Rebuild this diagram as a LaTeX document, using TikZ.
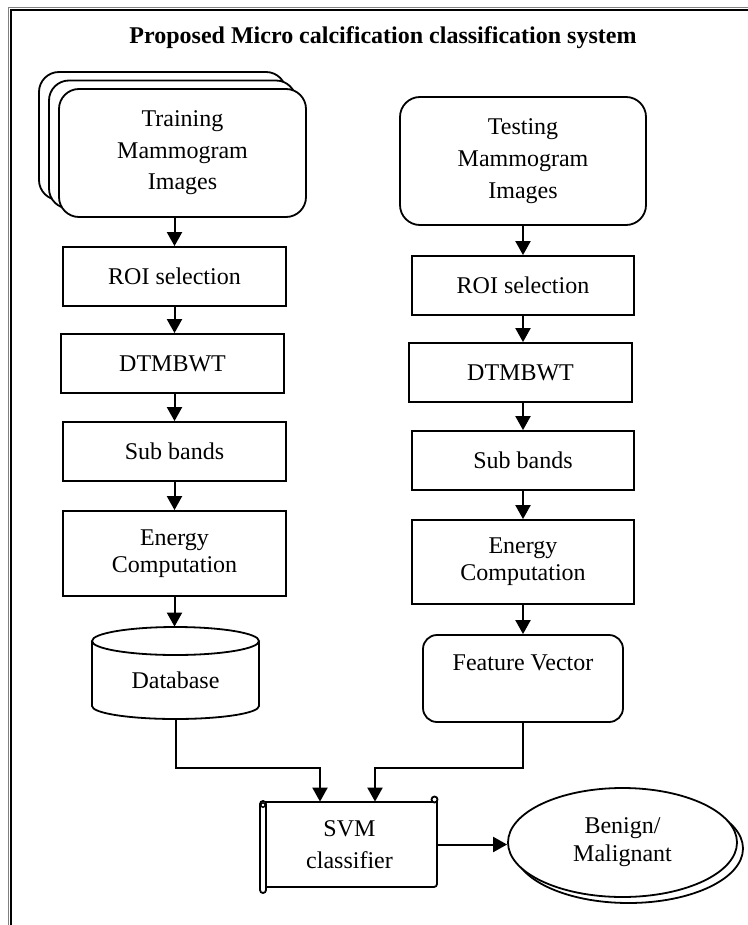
\documentclass[tikz,border=0pt]{standalone}
\usepackage{fontspec}
\setmainfont{Liberation Serif}
\usetikzlibrary{arrows.meta,shapes.geometric}
\begin{document}
\begin{tikzpicture}[x=0.5pt,y=-0.5pt,
  every node/.style={font=\fontsize{12}{14}\selectfont},
  ln/.style={line width=0.9pt},
  box/.style={draw,ln,minimum width=111.5pt,minimum height=29.5pt,inner sep=0pt,fill=white,align=center},
  rbox/.style={box,rounded corners=10pt},
  arr/.style={line width=1pt,-{Triangle[length=7pt,width=7.5pt]}}]
\useasboundingbox (0,0) rectangle (748,925);
% border
\draw[gray,line width=0.4pt] (8.3,925) -- (8.3,7.7) -- (748,7.7);
\draw[line width=1.2pt] (10.7,925) -- (10.7,10.3) -- (748,10.3);
% title
\node[font=\bfseries\fontsize{12}{14}\selectfont] (title) at (383,38) {Proposed Micro calcification classification system};
% left column
\node[rbox,minimum width=123.5pt,minimum height=64pt] (trainB) at (162.5,136) {};
\node[rbox,minimum width=123.5pt,minimum height=64pt] (trainM) at (172.5,144.5) {};
\node[rbox,minimum width=123.5pt,minimum height=64pt,font=\fontsize{12}{15.75}\selectfont] (trainF) at (182.5,153) {Training\\Mammogram\\Images};
\node[box] (roiL) at (174.5,276.5) {ROI selection};
\node[box] (dtmL) at (172.5,363.5) {DTMBWT};
\node[box] (subL) at (174.5,451.5) {Sub bands};
\node[box,minimum height=42.5pt,font=\fontsize{12}{13.5}\selectfont] (engL) at (174.5,553.5) {Energy\\Computation};
% database cylinder
\node[minimum width=83.5pt,minimum height=46pt,inner sep=0pt] (db) at (175.5,673) {};
\draw[ln,fill=white] (92,641) -- (92,706) arc[start angle=180,end angle=360,x radius=41.75pt,y radius=6.5pt] -- (259,641);
\draw[ln,fill=white] (175.5,641) ellipse [x radius=41.75pt, y radius=7pt];
\node (dbt) at (175.5,680) {Database};
% right column
\node[rbox,minimum width=123pt,minimum height=64pt,font=\fontsize{12}{16}\selectfont] (test) at (523,161) {Testing\\Mammogram\\Images};
\node[box,minimum width=111pt] (roiR) at (523,285.5) {ROI selection};
\node[box,minimum width=111.5pt] (dtmR) at (520.5,372.5) {DTMBWT};
\node[box,minimum width=111pt] (subR) at (523,460.5) {Sub bands};
\node[box,minimum width=111pt,minimum height=42pt,font=\fontsize{12}{13.5}\selectfont] (engR) at (523,562) {Energy\\Computation};
\node[rbox,rounded corners=7pt,minimum width=100pt,minimum height=43.5pt,
  label={[anchor=north,yshift=-7pt]north:Feature Vector}] (fv) at (523,678.5) {};
% SVM scroll
\draw[ln] (264,802) -- (434,802);
\draw[ln,rounded corners=1.5pt] (437,800) -- (437,887) -- (266,887);
\draw[ln] (434.5,799.5) circle[radius=1.5pt];
\draw[ln,fill=white,rounded corners=1.5pt] (260,801) rectangle (266,893);
\draw[line width=0.7pt] (263,805) circle[radius=1.1pt];
\node[minimum width=87.5pt,minimum height=42.5pt,inner sep=0pt,align=center,font=\fontsize{12}{16}\selectfont] (svm) at (349.5,844.5) {SVM\\classifier};
% result ellipse
\node[ellipse,draw,ln,fill=white,minimum width=114.5pt,minimum height=54.5pt,inner sep=0pt] (outB) at (628.5,848.5) {};
\node[ellipse,draw,ln,fill=white,minimum width=114.5pt,minimum height=54.5pt,inner sep=0pt,align=center] (out) at (622.5,842.5) {Benign/\\Malignant};
% connectors left
\draw[arr] (roiL.north |- trainF.south) -- (roiL.north);
\draw[arr] (roiL.south) -- (roiL.south |- dtmL.north);
\draw[arr] (subL.north |- dtmL.south) -- (subL.north);
\draw[arr] (subL.south) -- (engL.north);
\draw[arr] (engL.south) -- (engL.south |- db.north);
% connectors right
\draw[arr] (test.south) -- (roiR.north);
\draw[arr] (roiR.south) -- (roiR.south |- dtmR.north);
\draw[arr] (subR.north |- dtmR.south) -- (subR.north);
\draw[arr] (subR.south) -- (engR.north);
\draw[arr] (engR.south) -- (fv.north);
% to SVM
\coordinate (j1) at (320,768);
\coordinate (j2) at (375,768);
\draw[arr] (db.south) |- (j1) -- (j1 |- svm.north);
\draw[arr] (fv.south) |- (j2) -- (j2 |- svm.north);
\draw[arr] (svm.east) -- (svm.east -| out.west);
\end{tikzpicture}
\end{document}
